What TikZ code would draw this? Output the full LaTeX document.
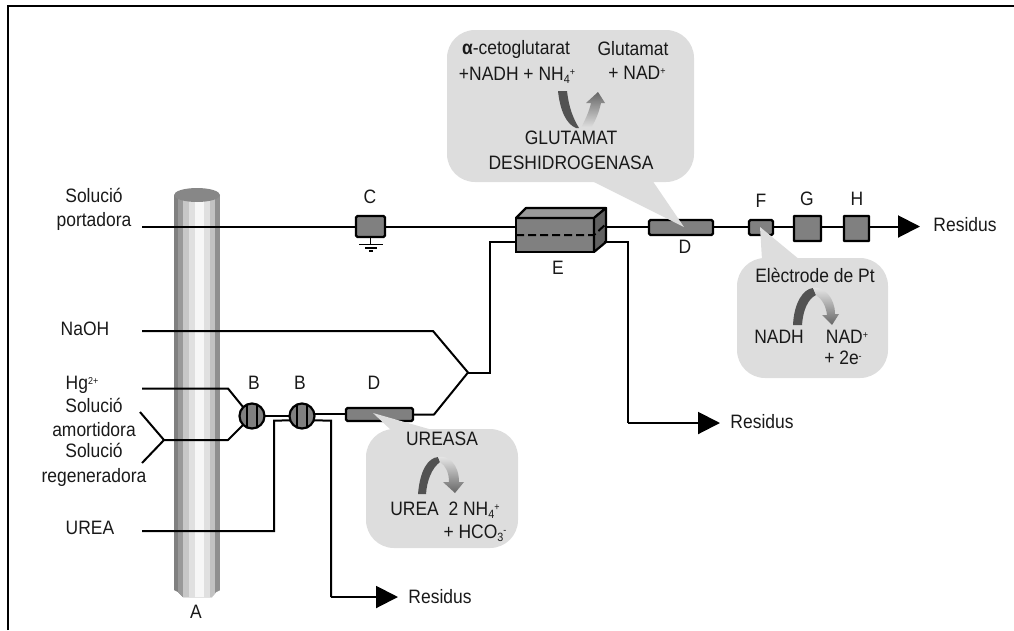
\documentclass[tikz,border=0pt]{standalone}
\usepackage{fontspec}
\setmainfont[FakeStretch=0.9]{Liberation Sans}
\usetikzlibrary{arrows.meta,calc}
\definecolor{boxgray}{HTML}{808080}
\definecolor{callout}{HTML}{DDDDDD}
\newcommand{\uppr}[1]{\raisebox{5pt}{\fontsize{10}{10}\selectfont #1}}
\newcommand{\lowr}[1]{\raisebox{-3pt}{\fontsize{12}{12}\selectfont #1}}
\tikzset{
  lbl/.style={inner sep=0pt,outer sep=0pt,align=center,text=black!90,font=\fontsize{19.4}{24.5}\selectfont},
  wire/.style={draw=black,line width=2pt},
  box/.style={draw=black,fill=boxgray,line width=2.2pt,rectangle,rounded corners=1.5pt,inner sep=0pt,outer sep=0pt},
  valve/.style={draw=black,fill=boxgray,line width=2.2pt,circle,inner sep=0pt,outer sep=0pt,minimum size=25pt},
  arrowed/.style={-{Triangle[length=22pt,width=22pt]}},
  bubble/.style={fill=callout,rounded corners=28pt},
  tipshape/.style={fill=callout},
  darkarc/.style={fill=black!68},
}
\begin{document}
\begin{tikzpicture}[x=1pt,y=-1pt]
\useasboundingbox (0,0) rectangle (1014,630);
% frame
\coordinate (fa) at (8,630); \coordinate (fb) at (8,6); \coordinate (fc) at (1014,6);
\draw[line width=2.2pt,line join=miter] (fa) -- (fb) -- (fc);
% column A
\begin{scope}
\clip (174,195) -- (174,590) -- (178,592) -- (183,597) -- (212,597) -- (216,592) -- (220,590) -- (220,195) -- cycle;
\foreach \px/\g in {174/50,178/60,183/78,189/88,195/97,204/88,210/76,215/56}{
  \fill[black!\the\numexpr100-\g\relax] (\px,180) rectangle (221,600);
}
\end{scope}
\fill[black!47] (197,195) ellipse [x radius=23pt,y radius=7pt];
% components
\node[box,minimum width=29pt,minimum height=21pt] (C) at (370.5,226.5) {};
\node[box,minimum width=64pt,minimum height=15pt] (D2) at (681,227.5) {};
\node[box,minimum width=24pt,minimum height=15pt] (F) at (761,227.5) {};
\node[box,minimum width=27pt,minimum height=25pt,rounded corners=0.5pt] (G) at (807.5,228.5) {};
\node[box,minimum width=25pt,minimum height=25pt,rounded corners=0.5pt] (H) at (856.5,228.5) {};
\node[box,minimum width=67pt,minimum height=13pt] (D1) at (379.5,414.5) {};
\node[valve] (B1) at (252,416) {};
\node[valve] (B2) at (302,416) {};
\foreach \n in {B1,B2}{
  \draw[line width=2pt] ($(\n)+(-5,-12)$) -- ($(\n)+(-5,12)$);
  \draw[line width=2pt] ($(\n)+(5,-12)$) -- ($(\n)+(5,12)$);
}
% separator E
\node[rectangle,draw=black,line width=2.2pt,fill=boxgray,minimum width=78pt,minimum height=34pt,inner sep=0pt,outer sep=0pt] (E) at (555,235) {};
\fill[black!40,draw=black,line width=2.2pt,line join=round] (E.north west) -- ++(10,-10) -- ++(80,0) -- (E.north east) -- cycle;
\fill[black!62,draw=black,line width=2.2pt,line join=round] (E.north east) -- ++(12,-10) -- ++(0,34) -- (E.south east) -- cycle;
\coordinate (El) at (516,235); \coordinate (Em) at (594,235); \coordinate (Er) at (606,224);
\draw[line width=2pt,dash pattern=on 8pt off 4pt] (El) -- (Em) -- (Er);
% ground
\coordinate (g0) at (370.5,244.5);
\coordinate (g1a) at (359,244.5); \coordinate (g1b) at (383,244.5);
\coordinate (g2a) at (365,248); \coordinate (g2b) at (377,248);
\coordinate (g3a) at (369,251); \coordinate (g3b) at (373,251);
\draw[wire,line width=1.5pt] (C.south) -- (g0) (g1a) -- (g1b) (g2a) -- (g2b) (g3a) -- (g3b);
% main line
\coordinate (s0) at (142,226.5);
\coordinate (Eo) at (606,226.5);
\draw[wire] (s0) -- (C.west);
\draw[wire] (C.east) -- (E.west |- C.east);
\draw[wire] (Eo) -- (D2.west |- Eo);
\draw[wire] (D2.east |- Eo) -- (F.west |- Eo);
\draw[wire] (F.east |- Eo) -- (G.west |- Eo);
\draw[wire] (G.east |- Eo) -- (H.west |- Eo);
\coordinate (r1) at (920,226.5);
\draw[wire,arrowed] (H.east |- Eo) -- (r1);
% NaOH + urease branch into E
\coordinate (n0) at (142,331); \coordinate (n1) at (433,331);
\coordinate (j) at (468,372.5); \coordinate (d1) at (434,414.5);
\coordinate (k) at (490,372.5); \coordinate (k2) at (490,242); \coordinate (Ein) at (516,242);
\draw[wire,line join=round] (n0) -- (n1) -- (j) -- (d1) -- (D1.east);
\draw[wire,line join=miter] (j) -- (k) -- (k2) -- (Ein);
% waste from E
\coordinate (w0) at (604,242); \coordinate (w1) at (628,242); \coordinate (w2) at (628,423); \coordinate (r2) at (720,423);
\draw[wire,line join=miter] (w0) -- (w1) -- (w2);
\draw[wire,arrowed] (w2) -- (r2);
% inlets
\coordinate (h0) at (142,388.5); \coordinate (h1) at (228,388.5);
\coordinate (m1) at (228,440); \coordinate (m0) at (164,440);
\coordinate (fu) at (140,412); \coordinate (fd) at (142,463);
\draw[wire,line join=round] (h0) -- (h1) -- (B1.135);
\draw[wire,line join=round] (fu) -- (m0) -- (fd);
\draw[wire,line join=round] (m0) -- (m1) -- (B1.225);
\draw[wire] (B1) ++(12.5,0) -- ($(B2)+(-12.5,0)$);
\coordinate (u0) at (142,531); \coordinate (u1) at (274,531); \coordinate (u2) at (274,420.5);
\draw[wire,line join=miter] (u0) -- (u1) -- (u2) -- (B2.201);
\coordinate (d1w) at (346,414);
\coordinate (b2e) at (314.5,414);
\draw[wire] (b2e) -- (d1w);
\coordinate (v1) at (331,420.5); \coordinate (v2) at (331,597); \coordinate (r3) at (398,597);
\draw[wire,line join=miter] (B2.-21) -- (v1) -- (v2);
\draw[wire,arrowed] (v2) -- (r3);
% callouts
\fill[bubble] (447,30) rectangle (694,182);
\fill[tipshape] (590,180) -- (684,227) -- (652,180) -- cycle;
\fill[bubble] (366,429) rectangle (518,548);
\fill[tipshape] (373,413) -- (392,431) -- (436,431) -- cycle;
\fill[bubble] (737,258) rectangle (888,378);
\fill[tipshape] (760,227) -- (762,260) -- (800,260) -- cycle;
% reaction arrows
\fill[darkarc] (558,91) -- (567,91) .. controls (569,108) and (573,118) .. (579,128) -- (576,128) .. controls (566,124) and (560,110) .. cycle;
\shade[bottom color=black!12,top color=black!60] (581,128) .. controls (585,120) and (589,112) .. (591,103) -- (586,103) -- (598,92) -- (605,103) -- (601,103) .. controls (599,112) and (596,120) .. (591,128) -- cycle;
\fill[darkarc] (418,494) -- (426,494) .. controls (427,480) and (432,468) .. (440,462) -- (438,457) .. controls (428,458) and (420,470) .. cycle;
\shade[top color=black!8,bottom color=black!60] (438,457) .. controls (448,455) and (459,464) .. (459,482) -- (464,482) -- (455,493) -- (443,482) -- (449,482) .. controls (449,473) and (446,466) .. (440,462) -- cycle;
\fill[darkarc] (793,325) -- (802,325) .. controls (803,310) and (808,299) .. (816,295) -- (813,288) .. controls (803,289) and (794,303) .. cycle;
\shade[top color=black!8,bottom color=black!60] (813,288) .. controls (824,286) and (835,298) .. (835,314) -- (839,314) -- (832,325) -- (822,315) -- (827,315) .. controls (826,306) and (822,299) .. (816,295) -- cycle;
% labels
\node[lbl] (t1) at (94,209.5) {Solució\\portadora};
\node[lbl] (t2) at (85,329) {NaOH};
\node[lbl] (t3) at (82,385) {Hg\uppr{2+}};
\node[lbl] (t4) at (94,417.5) {Solució\\amortidora};
\node[lbl] (t5) at (94,465) {Solució\\regeneradora};
\node[lbl] (t6) at (90,528) {UREA};
\node[lbl] (lA) at (196,612) {A};
\node[lbl] (lB1) at (254,383) {B};
\node[lbl] (lB2) at (300,383) {B};
\node[lbl] (lD1) at (374,383) {D};
\node[lbl] (lC) at (370,197) {C};
\node[lbl] (lE) at (558,268) {E};
\node[lbl] (lD2) at (685,247) {D};
\node[lbl] (lF) at (761,201) {F};
\node[lbl] (lG) at (807,199) {G};
\node[lbl] (lH) at (857,199) {H};
\node[lbl] (R1) at (965,225) {Residus};
\node[lbl] (R2) at (762,422) {Residus};
\node[lbl] (R3) at (440,597) {Residus};
\node[lbl] (c1) at (516,49) {\textbf{α}-cetoglutarat};
\node[lbl] (c2) at (517,75) {+NADH + NH\lowr{4}\uppr{+}};
\node[lbl] (c3) at (633,49) {Glutamat};
\node[lbl] (c4) at (637,73) {+ NAD\uppr{+}};
\node[lbl] (c5) at (571,150.5) {GLUTAMAT\\DESHIDROGENASA};
\node[lbl] (u5) at (442,439) {UREASA};
\node[lbl] (u6) at (445,510) {UREA\ \ 2 NH\lowr{4}\uppr{+}};
\node[lbl] (u7) at (475,533) {+ HCO\lowr{3}\uppr{-}};
\node[lbl] (e1) at (815,275) {Elèctrode de Pt};
\node[lbl] (e2) at (779,337) {NADH};
\node[lbl] (e3) at (847,337) {NAD\uppr{+}};
\node[lbl] (e4) at (843,358) {+ 2e\uppr{-}};
\end{tikzpicture}
\end{document}
